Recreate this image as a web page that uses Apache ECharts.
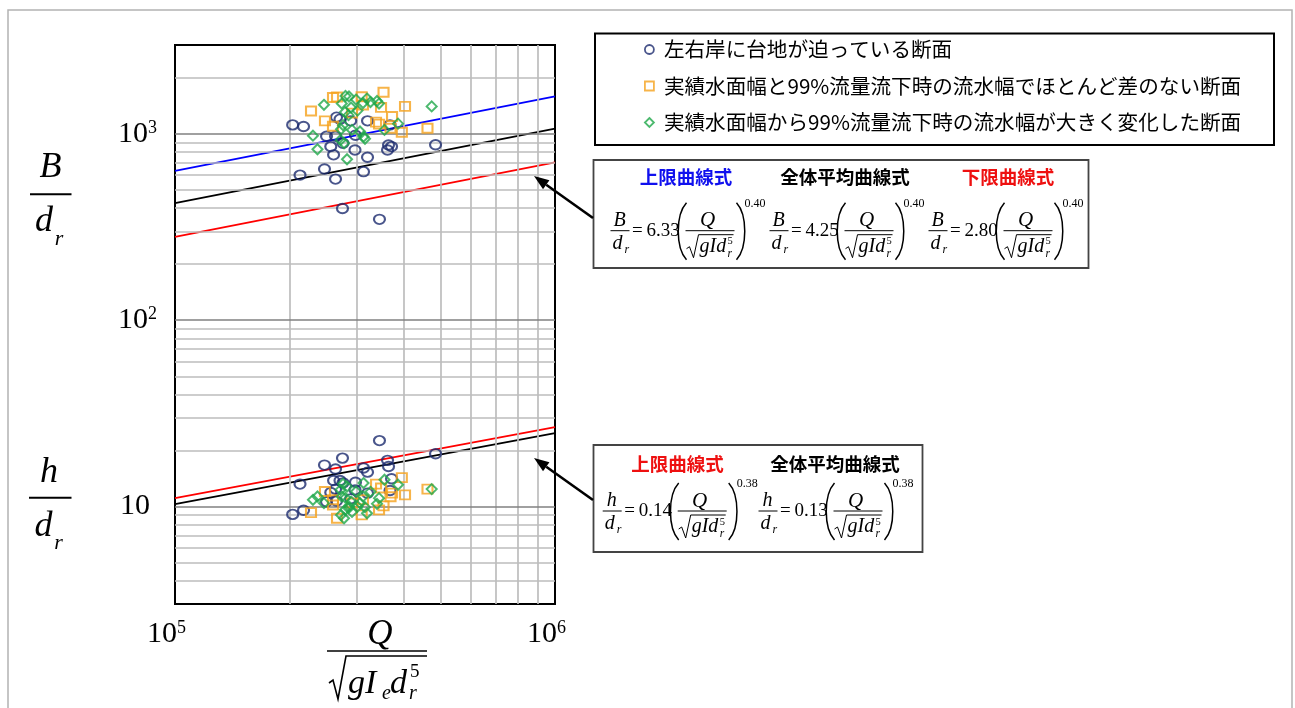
<!DOCTYPE html>
<html>
<head>
<meta charset="utf-8">
<script src="https://cdn.jsdelivr.net/npm/echarts@6/dist/echarts.min.js"></script>
<style>
html,body{margin:0;padding:0;background:#fff;}
#c{width:1295px;height:708px;}
</style>
</head>
<body>
<div id="c"></div>
<script>
// ---------- data ----------
const nameCircle = '左右岸に台地が迫っている断面';
const nameSquare = '実績水面幅と99%流量流下時の流水幅でほとんど差のない断面';
const nameDiamond = '実績水面幅から99%流量流下時の流水幅が大きく変化した断面';

const circleX = [2.040e5,2.179e5,2.133e5,2.474e5,2.505e5,2.570e5,2.614e5,2.645e5,2.645e5,2.661e5,2.718e5,2.759e5,2.768e5,2.900e5,2.985e5,2.976e5,3.134e5,3.211e5,3.211e5,3.452e5,3.625e5,3.647e5,3.680e5,3.714e5,4.849e5];
const circleB = [1118,1096,601,648,972,855,772,972,572,1230,1200,398,891,1175,984,820,627,1175,749,348,820,872,1118,855,875];
const circleH = [9.08,9.56,13.2,16.7,10.6,11.9,13.8,15.9,12.4,10.7,13.8,18.2,13.4,11.0,13.5,12.3,16.1,15.3,11.8,22.6,17.7,16.4,12.2,14.1,19.2];

const squareX = [2.280e5,2.481e5,2.605e5,2.669e5,2.605e5,3.099e5,3.124e5,3.538e5,3.485e5,4.030e5,3.725e5,3.381e5,3.443e5,3.691e5,3.953e5,4.618e5,2.923e5];
const squareB = [1326,1175,1567,1577,1100,1583,1428,1672,1388,1405,1241,1157,1128,1073,1021,1073,1293];
const squareH = [9.28,12.05,10.87,8.66,10.2,9.02,10.87,10.09,12.57,11.56,11.8,13.2,9.6,11.28,14.3,12.41,10.46];

const diamondX = [2.307e5,2.371e5,2.466e5,2.727e5,2.735e5,2.747e5,2.768e5,2.785e5,2.802e5,2.810e5,2.836e5,2.862e5,2.870e5,2.906e5,2.923e5,2.995e5,3.022e5,3.068e5,3.124e5,3.134e5,3.162e5,3.201e5,3.269e5,3.401e5,3.443e5,3.559e5,3.863e5,4.737e5];
const diamondB = [978,827,1433,928,1060,1455,1114,891,1309,1597,731,1261,1587,1384,1051,1529,1334,1030,1464,966,942,1548,1482,1501,1455,1051,1135,1405];
const diamondH = [10.87,11.32,10.43,12.3,9.02,11.32,13.26,8.66,9.6,11.14,12.82,9.8,10.0,10.64,9.36,12.05,10.0,10.43,11.32,13.37,9.93,9.21,12.0,10.34,11.1,13.93,13.09,12.41];

// fitted curves (end points at Q = 1e5 and 1e6)
const lineX = [1e5, 1e6];
const bUpper = [633, 1590];
const bMean = [425, 1068];
const bLower = [280, 703];
const hUpper = [11.1, 26.7];
const hMean = [10.3, 24.8];

// axis ranges and grid lines
const xRange = [1e5, 1e6];
const yRange = [3, 3000];
const gridX = [2e5,3e5,4e5,5e5,6e5,7e5,8e5,9e5];
const gridYMinor = [4,5,6,7,8,9,20,30,40,50,60,70,80,90,200,300,400,500,600,700,800,900,2000];
const gridYMajor = [10,100,1000];

// ---------- styles ----------
const serif = "'Liberation Serif','DejaVu Serif',serif";
const jp = "'Noto Sans CJK JP','Noto Sans CJK SC',sans-serif";
const cNavy = '#1c2a6e', cOrange = '#f5a11c', cGreen = '#1fa84a';

function pts(xs, ys){ return xs.map((x,i)=>[x, ys[i]]); }

function supLabel(v, padRight){
  const l = Math.log10(v);
  if (Math.abs(l - Math.round(l)) > 1e-6) return '';
  const e = Math.round(l);
  if (e === 1) return padRight ? '{p|10}' : '10';
  return '10{s|' + e + '}';
}

// ---------- graphic helpers ----------
const G = [];
function T(x, y, s, size, o){
  o = o || {};
  G.push({type:'text', x:x, y:y, silent:true, z:50,
    style:{text:s, fontSize:size, fontFamily:o.family||serif, fontStyle:o.italic?'italic':'normal',
      fontWeight:o.bold?'bold':'normal', fill:o.color||'#000',
      align:o.align||'center', verticalAlign:'middle', textAlign:o.align||'center', textVerticalAlign:'middle'}});
}
function L(x1,y1,x2,y2,w,c){
  G.push({type:'line', silent:true, z:50, shape:{x1:x1,y1:y1,x2:x2,y2:y2}, style:{stroke:c||'#000', lineWidth:w||1}});
}
function PL(points, w){
  G.push({type:'polyline', silent:true, z:50, shape:{points:points}, style:{stroke:'#000', fill:null, lineWidth:w||1}});
}
function BZ(x1,y1,x2,y2,c1x,c1y,c2x,c2y,w){
  G.push({type:'bezierCurve', silent:true, z:50, shape:{x1:x1,y1:y1,x2:x2,y2:y2,cpx1:c1x,cpy1:c1y,cpx2:c2x,cpy2:c2y}, style:{stroke:'#000', fill:null, lineWidth:w||1.3}});
}
function R(x,y,w,h,c,lw){
  G.push({type:'rect', silent:true, z:40, shape:{x:x,y:y,width:w,height:h}, style:{fill:'none', stroke:c, lineWidth:lw}});
}
function arrow(tx,ty,hx,hy){
  const dx = hx-tx, dy = hy-ty, len = Math.sqrt(dx*dx+dy*dy);
  const ux = dx/len, uy = dy/len, px = -uy, py = ux;
  const bx = hx-15*ux, by = hy-15*uy;
  L(tx,ty,bx,by,2.6,'#000');
  G.push({type:'polygon', silent:true, z:50, shape:{points:[[hx,hy],[bx+5.5*px,by+5.5*py],[bx-5.5*px,by-5.5*py]]}, style:{fill:'#000'}});
}
function formula(xL, yc, lhs, coef, ex){
  T(xL+9, yc-10, lhs, 20, {italic:true});
  L(xL, yc, xL+19, yc, 1);
  T(xL+7, yc+13, 'd', 20, {italic:true});
  T(xL+14, yc+19, 'r', 12, {italic:true, align:'left'});
  T(xL+21.5, yc, '=\u2009' + coef, 19, {align:'left'});
  BZ(xL+76, yc-28, xL+76, yc+29, xL+65, yc-16, xL+65, yc+17, 1.5);
  T(xL+97, yc-10, 'Q', 21, {italic:true});
  L(xL+75, yc, xL+124, yc, 1);
  PL([[xL+76,yc+18],[xL+79,yc+16],[xL+83,yc+27],[xL+88,yc+4],[xL+123,yc+4]], 1);
  T(xL+89, yc+16, 'gId', 20, {italic:true, align:'left'});
  T(xL+117, yc+11, '5', 10.5, {align:'left'});
  T(xL+117, yc+23, 'r', 11.5, {italic:true, align:'left'});
  BZ(xL+126, yc-28, xL+126, yc+29, xL+137, yc-16, xL+137, yc+17, 1.5);
  T(xL+134, yc-27, ex, 12, {align:'left'});
}

// outer frame
R(8, 10, 1284, 720, '#b3b3b3', 1.5);
// legend frame
R(595, 33.5, 679, 111.5, '#000', 2);
// formula boxes
R(593.5, 160, 495, 108, '#444', 1.8);
R(593.5, 445, 329, 107, '#444', 1.8);

T(686, 177, '上限曲線式', 18.5, {family:jp, bold:true, color:'#1010ee'});
T(845, 177, '全体平均曲線式', 18.5, {family:jp, bold:true});
T(1008, 177, '下限曲線式', 18.5, {family:jp, bold:true, color:'#ee1010'});
formula(610.5, 230.7, 'B', '6.33', '0.40');
formula(769.5, 230.7, 'B', '4.25', '0.40');
formula(928.5, 230.7, 'B', '2.80', '0.40');

T(677.5, 463.5, '上限曲線式', 18.5, {family:jp, bold:true, color:'#ee1010'});
T(835, 463.5, '全体平均曲線式', 18.5, {family:jp, bold:true});
formula(602.7, 511, 'h', '0.14', '0.38');
formula(758.5, 511, 'h', '0.13', '0.38');

arrow(593, 218, 534, 176);
arrow(593, 500, 534, 458);

// left axis titles
T(50.5, 168, 'B', 36, {italic:true});
L(30, 194.3, 71.5, 194.3, 2);
T(44, 222, 'd', 36, {italic:true});
T(59, 239, 'r', 22, {italic:true});
T(49, 473, 'h', 36, {italic:true});
L(29, 497.7, 71.5, 497.7, 2);
T(43.5, 527, 'd', 36, {italic:true});
T(58.5, 543, 'r', 22, {italic:true});

// bottom axis title
T(380, 635, 'Q', 35, {italic:true});
L(327, 651, 427, 651, 1.6);
PL([[329,683],[333,680],[338,699],[346,656],[427,656]], 1.6);
T(348, 684, 'gI', 34, {italic:true, align:'left'});
T(382, 694, 'e', 20, {italic:true, align:'left'});
T(390, 684, 'd', 34, {italic:true, align:'left'});
T(410, 672, '5', 19, {align:'left'});
T(409, 694, 'r', 20, {italic:true, align:'left'});

// ---------- chart ----------
const chart = echarts.init(document.getElementById('c'), null, {renderer:'canvas'});

const gridLines = [];
gridX.forEach(v => gridLines.push({xAxis:v, lineStyle:{color:'#bdbdbd', width:1.7, type:'solid'}}));
gridYMinor.forEach(v => gridLines.push({yAxis:v, lineStyle:{color:'#bdbdbd', width:1.7, type:'solid'}}));
gridYMajor.forEach(v => gridLines.push({yAxis:v, lineStyle:{color:'#808080', width:1.7, type:'solid'}}));

function scatterSeries(name, xs, ys, symbol, size, color){
  return {type:'scatter', name:name, data:pts(xs, ys), symbol:symbol, symbolSize:size, z:5,
    itemStyle:{color:'rgba(0,0,0,0)', borderColor:color, borderWidth:2}, silent:true};
}
function lineSeries(name, ys, color){
  return {type:'line', name:name, data:pts(lineX, ys), symbol:'none', z:4, silent:true,
    lineStyle:{color:color, width:1.8}};
}

const option = {
  animation:false,
  backgroundColor:'#fff',
  grid:{left:175, top:45, width:380, height:559, show:true, borderColor:'#000', borderWidth:2, backgroundColor:'transparent'},
  xAxis:{type:'log', logBase:10, min:xRange[0], max:xRange[1],
    axisLine:{show:false}, axisTick:{show:false}, splitLine:{show:false},
    axisLabel:{show:true, margin:15, color:'#000', fontFamily:serif, fontSize:30, lineHeight:30,
      padding:[0,17,0,0], showMinLabel:true, showMaxLabel:true,
      formatter:v=>supLabel(v,false),
      rich:{s:{fontSize:18, fontFamily:serif, color:'#000', verticalAlign:'top', lineHeight:17}}}},
  yAxis:{type:'log', logBase:10, min:yRange[0], max:yRange[1],
    axisLine:{show:false}, axisTick:{show:false}, splitLine:{show:false},
    axisLabel:{show:true, margin:18, color:'#000', fontFamily:serif, fontSize:30, lineHeight:30,
      formatter:v=>supLabel(v,true),
      rich:{s:{fontSize:18, fontFamily:serif, color:'#000', verticalAlign:'top', lineHeight:17},
            p:{fontSize:30, fontFamily:serif, color:'#000', padding:[0,7,0,0]}}}},
  legend:{left:639, top:34, orient:'vertical', itemWidth:9, itemHeight:9, itemGap:15.5, selectedMode:false,
    textStyle:{fontFamily:jp, fontSize:20.6, color:'#000', lineHeight:21, padding:[0,0,0,5]},
    data:[
      {name:nameCircle, icon:'circle', itemStyle:{color:'rgba(0,0,0,0)', borderColor:cNavy, borderWidth:1.8}},
      {name:nameSquare, icon:'rect', itemStyle:{color:'rgba(0,0,0,0)', borderColor:cOrange, borderWidth:1.8}},
      {name:nameDiamond, icon:'diamond', itemStyle:{color:'rgba(0,0,0,0)', borderColor:cGreen, borderWidth:1.8}}
    ]},
  graphic:{elements:G},
  series:[
    {type:'scatter', name:'_grid', data:[], silent:true, z:1,
      markLine:{silent:true, symbol:['none','none'], label:{show:false}, animation:false,
        lineStyle:{type:'solid'}, emphasis:{disabled:true}, data:gridLines}},
    lineSeries('上限曲線B', bUpper, '#0000ff'),
    lineSeries('全体平均曲線B', bMean, '#000000'),
    lineSeries('下限曲線B', bLower, '#ff0000'),
    lineSeries('上限曲線h', hUpper, '#ff0000'),
    lineSeries('全体平均曲線h', hMean, '#000000'),
    scatterSeries(nameCircle, circleX, circleB, 'circle', [11,9.5], cNavy),
    scatterSeries(nameCircle, circleX, circleH, 'circle', [11,9.5], cNavy),
    scatterSeries(nameSquare, squareX, squareB, 'rect', [10,9], cOrange),
    scatterSeries(nameSquare, squareX, squareH, 'rect', [10,9], cOrange),
    scatterSeries(nameDiamond, diamondX, diamondB, 'diamond', [10,10], cGreen),
    scatterSeries(nameDiamond, diamondX, diamondH, 'diamond', [10,10], cGreen)
  ]
};
chart.setOption(option);
</script>
</body>
</html>
